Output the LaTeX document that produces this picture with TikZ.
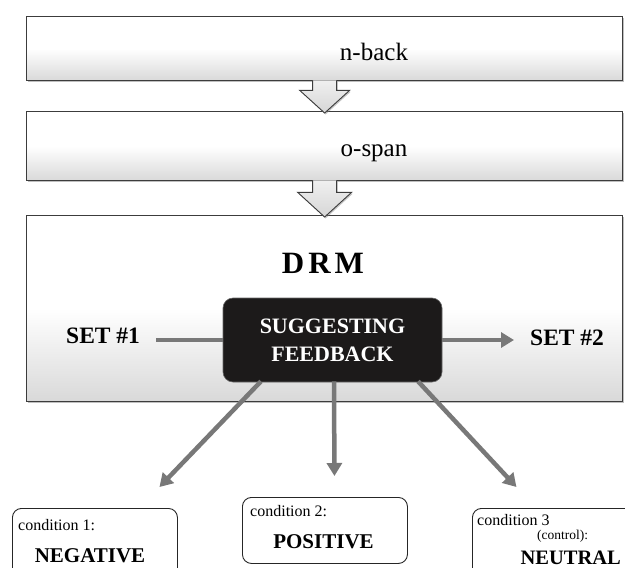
\documentclass[tikz,border=0pt]{standalone}
\usepackage{fontspec}
\setmainfont{Liberation Serif}
\usetikzlibrary{arrows.meta,shadows,calc}
\definecolor{boxline}{HTML}{3C3C3C}
\definecolor{conngray}{HTML}{787878}
\definecolor{sugfill}{HTML}{1C1A1A}
\begin{document}
\begin{tikzpicture}[x=1pt,y=-1pt,
  panel/.style={draw=boxline, line width=1.3pt, top color=white, bottom color=black!15, middle color=white,
    drop shadow={shadow xshift=1.2pt, shadow yshift=-1.8pt, fill=black!50, opacity=.5},
    inner sep=0pt, anchor=north west},
  blockarrow/.style={draw=boxline, line width=0.9pt, top color=black!6, bottom color=black!16, line join=miter,
    drop shadow={shadow xshift=1pt, shadow yshift=-1.5pt, fill=black!50, opacity=.45}},
  sugbox/.style={fill=sugfill, draw=black!60, line width=0.6pt, rounded corners=10pt, inner sep=0pt,
    text=white, align=center, font=\fontsize{22}{28}\selectfont\bfseries},
  condbox/.style={draw=black!85, line width=0.9pt, rounded corners=9pt, fill=white, inner sep=0pt, anchor=north west},
  conn/.style={draw=conngray, line width=4.5pt},
  connarrow/.style={conn, -{Triangle[length=13pt,width=15pt]}},
  plain/.style={inner sep=0pt, font=\fontsize{25}{25}\selectfont},
  setlbl/.style={inner sep=0pt, font=\fontsize{23.5}{23.5}\selectfont\bfseries},
  condsmall/.style={inner sep=0pt, anchor=base west, font=\fontsize{16}{16}\selectfont},
  condbig/.style={inner sep=0pt, font=\fontsize{21}{21}\selectfont\bfseries}
]
\useasboundingbox (0,0) rectangle (625,568);
\clip (0,0) rectangle (625,568);

% panels
\node[panel, minimum width=596pt, minimum height=64pt] (nback) at (26,16) {};
\node[panel, minimum width=596pt, minimum height=69pt] (ospan) at (26,111) {};
\node[panel, minimum width=596pt, minimum height=186pt] (drm) at (26,215) {};

\node[plain, anchor=base] (nbacktxt) at (374,60) {n-back};
\node[plain, anchor=base] (ospantxt) at (374,156) {o-span};

% block arrows
\path[blockarrow] ($(nback.south)+(-12,-1)$) -- ($(nback.south)+(-12,9)$) -- ($(nback.south)+(-25,9)$)
  -- ($(ospan.north)+(0,2)$) -- ($(nback.south)+(25,9)$) -- ($(nback.south)+(12,9)$) -- ($(nback.south)+(12,-1)$);
\path[blockarrow] ($(ospan.south)+(-12,-1)$) -- ($(ospan.south)+(-12,11)$) -- ($(ospan.south)+(-27,11)$)
  -- ($(drm.north)+(0,2)$) -- ($(ospan.south)+(27,11)$) -- ($(ospan.south)+(12,11)$) -- ($(ospan.south)+(12,-1)$);

% DRM content
\node[inner sep=0pt, anchor=base, font=\fontsize{31}{31}\selectfont\bfseries] (drmtxt) at (323,273) {D\kern4pt R\kern4pt M};
\node[setlbl, anchor=base west] (set1) at (66,343) {SET \#1};
\node[setlbl, anchor=base west] (set2) at (530,345) {SET \#2};

% condition boxes
\node[condbox, minimum width=165pt, minimum height=75pt] (c1) at (12,508) {};
\node[condbox, minimum width=165pt, minimum height=66pt] (c2) at (242,497) {};
\node[condbox, minimum width=175pt, minimum height=75pt] (c3) at (472,508) {};

\node[condsmall] (c1a) at (18,530) {condition 1:};
\node[condbig, anchor=base] (c1b) at (90,562) {NEGATIVE};
\node[condsmall] (c2a) at (250,516) {condition 2:};
\node[condbig, anchor=base] (c2b) at (323.5,548) {POSITIVE};
\node[condsmall] (c3a) at (477,525) {condition 3};
\node[inner sep=0pt, anchor=base west, font=\fontsize{13.5}{13.5}\selectfont] (c3b) at (537,539) {(control):};
\node[condbig, anchor=base east, font=\fontsize{20.5}{20.5}\selectfont\bfseries] (c3c) at (621,564) {NEUTRAL};

% suggesting feedback box
\node[sugbox, minimum width=219pt, minimum height=84pt] (sug) at (332.5,340) {SUGGESTING\\FEEDBACK};

% connectors
\draw[conn, shorten <=16pt] (set1.east |- sug.west) -- (sug.west);
\draw[connarrow, shorten >=16pt] (sug.east) -- (sug.east -| set2.west);

\coordinate (s1) at ($(sug.south)+(-71.5,-1)$);
\coordinate (t1) at ($(c1.north)+(64.5,-21)$);
\coordinate (s2) at ($(sug.south)+(1.5,-1)$);
\coordinate (t2) at ($(c2.north)+(9.5,-21)$);
\coordinate (s3) at ($(sug.south)+(85.5,-1)$);
\coordinate (t3) at ($(c3.north)+(-43.5,-21)$);
\draw[connarrow] (s1) -- (t1);
\draw[connarrow] (s2) -- (t2);
\draw[connarrow] (s3) -- (t3);
\end{tikzpicture}
\end{document}
